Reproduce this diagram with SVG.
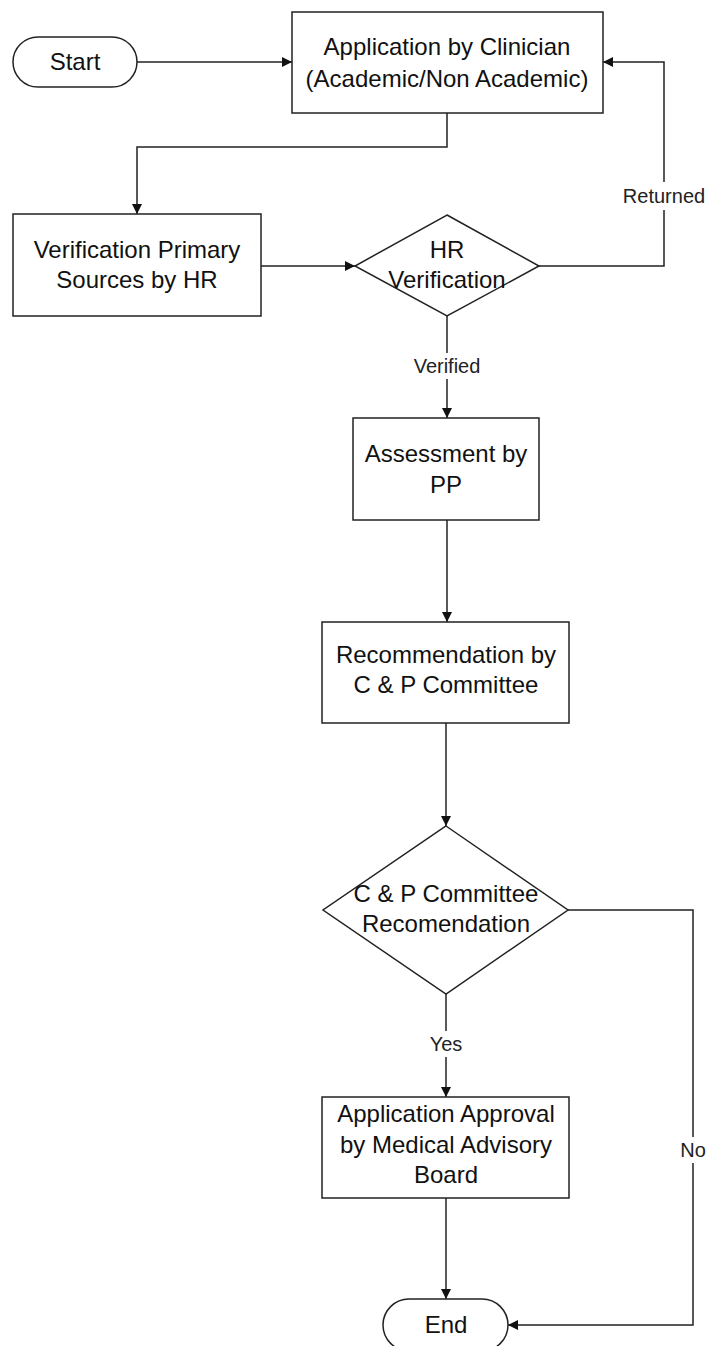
<svg xmlns="http://www.w3.org/2000/svg" width="707" height="1346" viewBox="0 0 707 1346">
<defs>
<style>
.n{fill:#fff;stroke:#222;stroke-width:1.5}
.t{font-family:"Liberation Sans",Arial,sans-serif;font-size:24px;fill:#111;text-anchor:middle}
.l{font-family:"Liberation Sans",Arial,sans-serif;font-size:20px;fill:#222;text-anchor:middle}
.c{fill:none;stroke:#222;stroke-width:1.5}
.bg{fill:#fff;stroke:none}
</style>
<marker id="ah" viewBox="0 0 10 10" refX="10" refY="5" markerWidth="10" markerHeight="10" markerUnits="userSpaceOnUse" orient="auto">
<path d="M0,0 L10,5 L0,10 z" fill="#111"/>
</marker>
</defs>
<rect width="707" height="1346" fill="#fff"/>
<g id="connectors">
<path class="c" d="M137,62 H292" marker-end="url(#ah)"/>
<path class="c" d="M447,113 V147 H137 V214" marker-end="url(#ah)"/>
<path class="c" d="M261,266 H355" marker-end="url(#ah)"/>
<path class="c" d="M539,266 H664 V62 H603" marker-end="url(#ah)"/>
<path class="c" d="M447,316 V418" marker-end="url(#ah)"/>
<path class="c" d="M447,520 V622" marker-end="url(#ah)"/>
<path class="c" d="M446,723 V826" marker-end="url(#ah)"/>
<path class="c" d="M446,994 V1097" marker-end="url(#ah)"/>
<path class="c" d="M446,1198 V1299" marker-end="url(#ah)"/>
<path class="c" d="M568,910 H693 V1325 H508" marker-end="url(#ah)"/>
<rect class="bg" x="620" y="182" width="87" height="28"/>
<text class="l" x="664" y="203">Returned</text>
<rect class="bg" x="410" y="353" width="74" height="26"/>
<text class="l" x="447" y="373">Verified</text>
<rect class="bg" x="424" y="1031" width="44" height="26"/>
<text class="l" x="446" y="1051">Yes</text>
<rect class="bg" x="678" y="1137" width="30" height="26"/>
<text class="l" x="693" y="1157">No</text>
</g>
<g id="start">
<rect class="n" x="13" y="37" width="124" height="50" rx="25" ry="25"/>
<text class="t" x="75" y="70">Start</text>
</g>
<g id="application">
<rect class="n" x="292" y="12" width="311" height="101"/>
<text class="t" x="447" y="55">Application by Clinician</text>
<text class="t" x="447" y="87">(Academic/Non Academic)</text>
</g>
<g id="verification">
<rect class="n" x="13" y="214" width="248" height="102"/>
<text class="t" x="137" y="258">Verification Primary</text>
<text class="t" x="137" y="288">Sources by HR</text>
</g>
<g id="hr-verification">
<polygon class="n" points="447,215 539,266 447,316 355,266"/>
<text class="t" x="447" y="258">HR</text>
<text class="t" x="447" y="288">Verification</text>
</g>
<g id="assessment">
<rect class="n" x="353" y="418" width="186" height="102"/>
<text class="t" x="446" y="462">Assessment by</text>
<text class="t" x="446" y="493">PP</text>
</g>
<g id="recommendation">
<rect class="n" x="322" y="622" width="247" height="101"/>
<text class="t" x="446" y="663">Recommendation by</text>
<text class="t" x="446" y="693">C &amp; P Committee</text>
</g>
<g id="cp-decision">
<polygon class="n" points="446,826 568,910 446,994 323,910"/>
<text class="t" x="446" y="902">C &amp; P Committee</text>
<text class="t" x="446" y="932">Recomendation</text>
</g>
<g id="approval">
<rect class="n" x="322" y="1097" width="247" height="101"/>
<text class="t" x="446" y="1122">Application Approval</text>
<text class="t" x="446" y="1153">by Medical Advisory</text>
<text class="t" x="446" y="1183">Board</text>
</g>
<g id="end">
<rect class="n" x="383" y="1299" width="125" height="52" rx="26" ry="26"/>
<text class="t" x="446" y="1333">End</text>
</g>
</svg>
